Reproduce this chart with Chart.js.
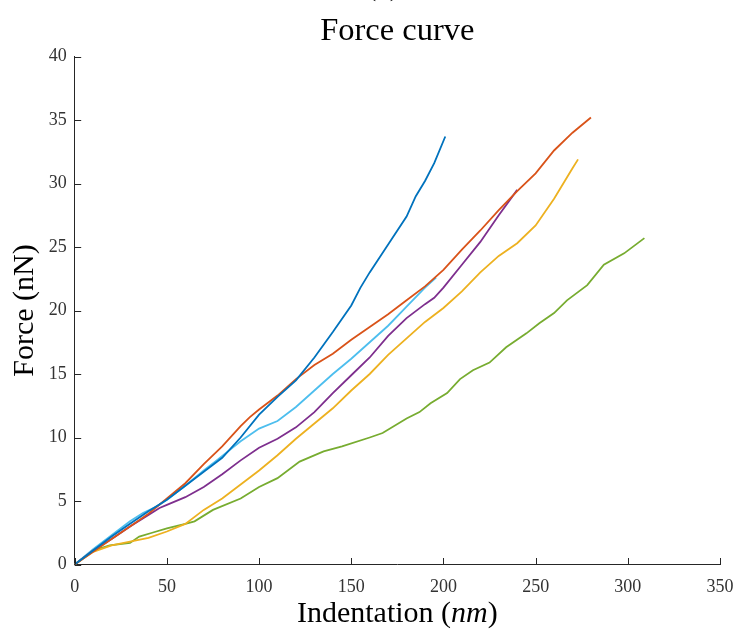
<!DOCTYPE html>
<html>
<head>
<meta charset="utf-8">
<script src="https://cdn.jsdelivr.net/npm/chart.js@4/dist/chart.umd.min.js"></script>
<style>
html,body{margin:0;padding:0;background:#fff;}
#wrap{width:736px;height:630px;position:relative;}
</style>
</head>
<body>
<div id="wrap"><canvas id="c" width="736" height="630"></canvas></div>
<script>
// ---- data (Indentation in nm, Force in nN) ----
const blueX   = [0,10,20,30,40,50,60,70,80,90,100,110,120,130,140,150,155,160,170,180,185,190,195,201];
const blueY   = [0,1.1,2.2,3.2,4.2,5.1,6.2,7.3,8.4,10.0,11.8,13.2,14.5,16.3,18.3,20.4,21.8,23.0,25.2,27.4,29.0,30.2,31.6,33.7];

const orangeX = [0,10,20,30,40,50,60,70,80,90,95,100,110,120,130,140,150,160,170,180,190,200,210,220,230,240,250,260,270,280];
const orangeY = [0,1.0,2.0,3.0,4.0,5.2,6.4,7.9,9.3,10.9,11.6,12.2,13.3,14.6,15.7,16.6,17.7,18.7,19.7,20.8,21.9,23.2,24.8,26.3,27.9,29.4,30.8,32.6,34.0,35.2];

const yellowX = [0,10,20,30,40,50,60,70,80,90,100,110,120,130,140,150,160,170,180,190,200,210,220,230,240,250,260,270,273];
const yellowY = [0,1.0,1.5,1.8,2.1,2.6,3.2,4.3,5.2,6.3,7.4,8.6,9.9,11.1,12.3,13.7,15.0,16.5,17.8,19.1,20.2,21.5,23.0,24.3,25.3,26.7,28.8,31.2,31.9];

const purpleX = [0,10,20,30,40,46,50,60,70,80,90,100,110,120,130,140,150,160,170,180,190,195,200,210,220,230,240];
const purpleY = [0,1.1,2.0,3.0,3.9,4.45,4.7,5.3,6.1,7.1,8.2,9.2,9.9,10.8,12.0,13.5,14.9,16.3,18.0,19.4,20.5,21.0,21.8,23.6,25.4,27.5,29.5];

const greenX  = [0,10,19,30,35,42,50,60,65,75,90,100,110,122,135,145,160,167,180,187,193,202,209,216,225,234,245,252,260,267,278,287,298,309];
const greenY  = [0,1.1,1.5,1.7,2.2,2.5,2.85,3.2,3.4,4.3,5.2,6.1,6.8,8.1,8.9,9.3,10.0,10.35,11.5,12.0,12.7,13.5,14.6,15.3,15.9,17.1,18.2,19.0,19.8,20.8,22.0,23.6,24.5,25.7];

const lblueX  = [0,10,20,30,37,45,50,60,70,77,90,100,110,120,130,140,150,160,170,180,190,196];
const lblueY  = [0,1.2,2.3,3.4,4.05,4.6,5.1,6.2,7.4,8.2,9.7,10.7,11.3,12.4,13.7,15.0,16.2,17.5,18.8,20.3,21.8,22.6];

const xTicks = [0,50,100,150,200,250,300,350];
const yTicks = [0,5,10,15,20,25,30,35,40];

const chartTitle = 'Force curve';
const xTitleParts = ['Indentation (', 'nm', ')'];
const yTitle = 'Force (nN)';
const panelLabel = '(a)';

// ---- build ----
const SERIF = "'Liberation Serif', 'Times New Roman', serif";
const AX = '#262626';
function pts(xs, ys){ return xs.map((x,i)=>({x:x, y:ys[i]})); }
function ds(xs, ys, color){
  return {data: pts(xs, ys), borderColor: color, backgroundColor: color, borderWidth: 1.8,
          pointRadius: 0, showLine: true, tension: 0, fill: false};
}

const inwardTicks = {
  id: 'inwardTicks',
  afterDatasetsDraw(chart){
    const ctx = chart.ctx, xs = chart.scales.x, ys = chart.scales.y, a = chart.chartArea;
    const L = 6.5;
    ctx.save();
    ctx.strokeStyle = AX; ctx.lineWidth = 1;
    xTicks.forEach(v=>{ const p = Math.round(xs.getPixelForValue(v))+0.5;
      ctx.beginPath(); ctx.moveTo(p, a.bottom); ctx.lineTo(p, a.bottom - L); ctx.stroke(); });
    yTicks.forEach(v=>{ const p = Math.round(ys.getPixelForValue(v))+0.5;
      ctx.beginPath(); ctx.moveTo(a.left, p); ctx.lineTo(a.left + L, p); ctx.stroke(); });
    ctx.restore();
  }
};

const extraText = {
  id: 'extraText',
  afterDraw(chart){
    const ctx = chart.ctx, a = chart.chartArea;
    ctx.save();
    ctx.fillStyle = '#000';
    ctx.textBaseline = 'alphabetic';
    // x axis title with italic unit
    const fN = "30px " + SERIF, fI = "italic 30px " + SERIF;
    ctx.font = fN; const w0 = ctx.measureText(xTitleParts[0]).width, w2 = ctx.measureText(xTitleParts[2]).width;
    ctx.font = fI; const w1 = ctx.measureText(xTitleParts[1]).width;
    let x = (a.left + a.right)/2 - (w0+w1+w2)/2; const y = 622;
    ctx.textAlign = 'left';
    ctx.font = fN; ctx.fillText(xTitleParts[0], x, y); x += w0;
    ctx.font = fI; ctx.fillText(xTitleParts[1], x, y); x += w1;
    ctx.font = fN; ctx.fillText(xTitleParts[2], x, y);
    // cut-off panel label at the very top
    ctx.font = "30px " + SERIF; ctx.textAlign = 'center';
    ctx.fillText(panelLabel, 383, -5);
    ctx.restore();
  }
};

new Chart(document.getElementById('c'), {
  type: 'scatter',
  data: { datasets: [
    ds(blueX, blueY, '#0072BD'),
    ds(orangeX, orangeY, '#D95319'),
    ds(yellowX, yellowY, '#EDB120'),
    ds(purpleX, purpleY, '#7E2F8E'),
    ds(greenX, greenY, '#77AC30'),
    ds(lblueX, lblueY, '#4DBEEE')
  ]},
  options: {
    responsive: false, animation: false, devicePixelRatio: 1,
    layout: { padding: { left: 0, right: 16, top: 0, bottom: 0 } },
    plugins: {
      legend: { display: false }, tooltip: { enabled: false },
      title: { display: true, text: chartTitle, fullSize: false, color: '#000',
               font: { family: SERIF, size: 32.5, weight: 'normal', lineHeight: 1.2 },
               padding: { top: 12, bottom: 5.5 } }
    },
    scales: {
      x: { type: 'linear', min: 0, max: 350,
           afterBuildTicks(s){ s.ticks = xTicks.map(v=>({value:v})); },
           afterFit(s){ s.height = 65.5; s.paddingLeft = 0; s.paddingRight = 0; },
           grid: { display: false, drawTicks: false },
           border: { display: true, color: AX, width: 1 },
           ticks: { color: '#333', padding: 12, maxRotation: 0, font: { family: SERIF, size: 18 } } },
      y: { type: 'linear', min: 0, max: 40,
           afterBuildTicks(s){ s.ticks = yTicks.map(v=>({value:v})); },
           afterFit(s){ s.width = 74.7; s.paddingTop = 0; s.paddingBottom = 0; },
           grid: { display: false, drawTicks: false },
           border: { display: true, color: AX, width: 1 },
           ticks: { color: '#333', padding: 8, font: { family: SERIF, size: 18 } },
           title: { display: true, text: yTitle, color: '#000',
                    font: { family: SERIF, size: 30, weight: 'normal', lineHeight: 1.2 },
                    padding: { top: 7, bottom: 0 } } }
    }
  },
  plugins: [inwardTicks, extraText]
});
</script>
</body>
</html>
